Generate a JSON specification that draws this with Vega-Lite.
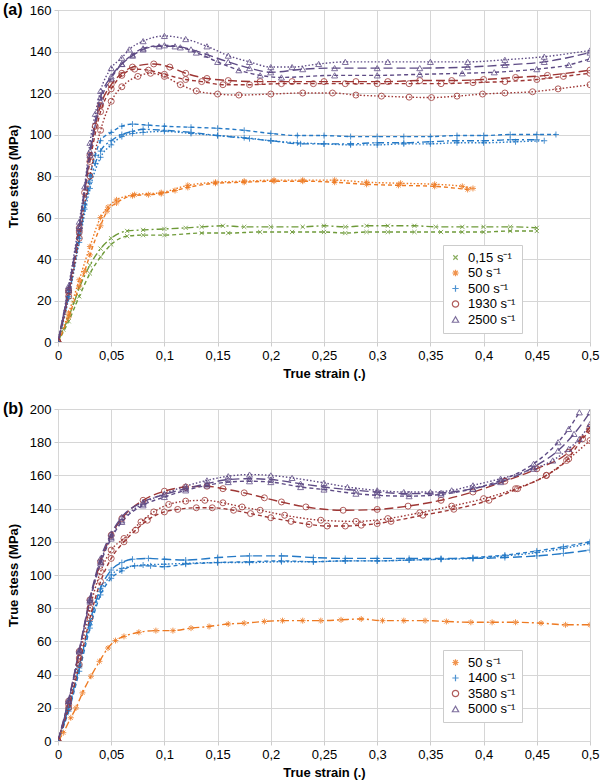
{
  "$schema": "https://vega.github.io/schema/vega-lite/v6.json",
  "padding": {"left": 2, "top": 1, "right": 5, "bottom": 5},
  "config": {
    "font": "Liberation Sans",
    "view": {"stroke": "#cccccc", "strokeWidth": 1},
    "axis": {
      "grid": true, "gridColor": "#d6d6d6", "gridWidth": 1,
      "domain": false, "ticks": true, "tickColor": "#cccccc", "tickSize": 4,
      "labelFont": "Liberation Sans", "labelFontSize": 13, "labelColor": "#000000", "labelPadding": 3,
      "titleFont": "Liberation Sans", "titleFontSize": 13, "titleFontWeight": "bold", "titleColor": "#000000"
    },
    "legend": {
      "labelFont": "Liberation Sans", "labelFontSize": 13, "labelColor": "#000000",
      "strokeColor": "#cccccc", "fillColor": "#ffffff", "padding": 6, "rowPadding": 1.5,
      "labelOffset": 6, "symbolSize": 40, "symbolStrokeWidth": 1.2
    },
    "title": {"font": "Liberation Sans", "fontSize": 16, "fontWeight": "bold", "color": "#000000"}
  },
  "datasets": {
    "a": [
      {"r":"0,15 s⁻¹","c":"dd","x":0,"y":0},{"r":"0,15 s⁻¹","c":"dd","x":0.005,"y":6},{"r":"0,15 s⁻¹","c":"dd","x":0.01,"y":12},{"r":"0,15 s⁻¹","c":"dd","x":0.015,"y":19},{"r":"0,15 s⁻¹","c":"dd","x":0.02,"y":26},{"r":"0,15 s⁻¹","c":"dd","x":0.03,"y":37},{"r":"0,15 s⁻¹","c":"dd","x":0.04,"y":45},{"r":"0,15 s⁻¹","c":"dd","x":0.05,"y":50},{"r":"0,15 s⁻¹","c":"dd","x":0.065,"y":53.5},{"r":"0,15 s⁻¹","c":"dd","x":0.08,"y":54},{"r":"0,15 s⁻¹","c":"dd","x":0.1,"y":54.5},{"r":"0,15 s⁻¹","c":"dd","x":0.12,"y":55},{"r":"0,15 s⁻¹","c":"dd","x":0.135,"y":55.5},{"r":"0,15 s⁻¹","c":"dd","x":0.155,"y":56},{"r":"0,15 s⁻¹","c":"dd","x":0.175,"y":55.5},{"r":"0,15 s⁻¹","c":"dd","x":0.2,"y":55.5},{"r":"0,15 s⁻¹","c":"dd","x":0.23,"y":55.5},{"r":"0,15 s⁻¹","c":"dd","x":0.25,"y":56},{"r":"0,15 s⁻¹","c":"dd","x":0.27,"y":55.5},{"r":"0,15 s⁻¹","c":"dd","x":0.29,"y":56},{"r":"0,15 s⁻¹","c":"dd","x":0.31,"y":56},{"r":"0,15 s⁻¹","c":"dd","x":0.335,"y":56},{"r":"0,15 s⁻¹","c":"dd","x":0.355,"y":55.5},{"r":"0,15 s⁻¹","c":"dd","x":0.38,"y":55.5},{"r":"0,15 s⁻¹","c":"dd","x":0.4,"y":55.5},{"r":"0,15 s⁻¹","c":"dd","x":0.425,"y":55.5},{"r":"0,15 s⁻¹","c":"dd","x":0.45,"y":55},
      {"r":"0,15 s⁻¹","c":"sd","x":0,"y":0},{"r":"0,15 s⁻¹","c":"sd","x":0.01,"y":10},{"r":"0,15 s⁻¹","c":"sd","x":0.02,"y":22},{"r":"0,15 s⁻¹","c":"sd","x":0.03,"y":33},{"r":"0,15 s⁻¹","c":"sd","x":0.04,"y":41},{"r":"0,15 s⁻¹","c":"sd","x":0.05,"y":47},{"r":"0,15 s⁻¹","c":"sd","x":0.065,"y":51},{"r":"0,15 s⁻¹","c":"sd","x":0.08,"y":51.5},{"r":"0,15 s⁻¹","c":"sd","x":0.1,"y":51.5},{"r":"0,15 s⁻¹","c":"sd","x":0.135,"y":52.5},{"r":"0,15 s⁻¹","c":"sd","x":0.16,"y":52.5},{"r":"0,15 s⁻¹","c":"sd","x":0.19,"y":53},{"r":"0,15 s⁻¹","c":"sd","x":0.22,"y":53},{"r":"0,15 s⁻¹","c":"sd","x":0.25,"y":53},{"r":"0,15 s⁻¹","c":"sd","x":0.27,"y":52.5},{"r":"0,15 s⁻¹","c":"sd","x":0.29,"y":53},{"r":"0,15 s⁻¹","c":"sd","x":0.31,"y":53},{"r":"0,15 s⁻¹","c":"sd","x":0.335,"y":53},{"r":"0,15 s⁻¹","c":"sd","x":0.36,"y":53},{"r":"0,15 s⁻¹","c":"sd","x":0.38,"y":53},{"r":"0,15 s⁻¹","c":"sd","x":0.4,"y":53},{"r":"0,15 s⁻¹","c":"sd","x":0.425,"y":53.5},{"r":"0,15 s⁻¹","c":"sd","x":0.45,"y":53.5},
      {"r":"50 s⁻¹","c":"sd","x":0,"y":0},{"r":"50 s⁻¹","c":"sd","x":0.01,"y":12},{"r":"50 s⁻¹","c":"sd","x":0.02,"y":27},{"r":"50 s⁻¹","c":"sd","x":0.025,"y":34},{"r":"50 s⁻¹","c":"sd","x":0.03,"y":42},{"r":"50 s⁻¹","c":"sd","x":0.04,"y":56},{"r":"50 s⁻¹","c":"sd","x":0.046,"y":63},{"r":"50 s⁻¹","c":"sd","x":0.055,"y":67},{"r":"50 s⁻¹","c":"sd","x":0.07,"y":70.5},{"r":"50 s⁻¹","c":"sd","x":0.085,"y":71},{"r":"50 s⁻¹","c":"sd","x":0.097,"y":71.5},{"r":"50 s⁻¹","c":"sd","x":0.11,"y":73},{"r":"50 s⁻¹","c":"sd","x":0.122,"y":74.5},{"r":"50 s⁻¹","c":"sd","x":0.148,"y":76.5},{"r":"50 s⁻¹","c":"sd","x":0.175,"y":77},{"r":"50 s⁻¹","c":"sd","x":0.203,"y":77.5},{"r":"50 s⁻¹","c":"sd","x":0.23,"y":77.5},{"r":"50 s⁻¹","c":"sd","x":0.26,"y":77},{"r":"50 s⁻¹","c":"sd","x":0.29,"y":76},{"r":"50 s⁻¹","c":"sd","x":0.32,"y":75.5},{"r":"50 s⁻¹","c":"sd","x":0.354,"y":75},{"r":"50 s⁻¹","c":"sd","x":0.385,"y":73.5},
      {"r":"50 s⁻¹","c":"dot","x":0,"y":0},{"r":"50 s⁻¹","c":"dot","x":0.01,"y":14},{"r":"50 s⁻¹","c":"dot","x":0.02,"y":30},{"r":"50 s⁻¹","c":"dot","x":0.03,"y":46},{"r":"50 s⁻¹","c":"dot","x":0.04,"y":60},{"r":"50 s⁻¹","c":"dot","x":0.047,"y":65},{"r":"50 s⁻¹","c":"dot","x":0.055,"y":68.5},{"r":"50 s⁻¹","c":"dot","x":0.072,"y":71},{"r":"50 s⁻¹","c":"dot","x":0.097,"y":72},{"r":"50 s⁻¹","c":"dot","x":0.122,"y":75.5},{"r":"50 s⁻¹","c":"dot","x":0.148,"y":77},{"r":"50 s⁻¹","c":"dot","x":0.175,"y":77.5},{"r":"50 s⁻¹","c":"dot","x":0.203,"y":78},{"r":"50 s⁻¹","c":"dot","x":0.23,"y":78},{"r":"50 s⁻¹","c":"dot","x":0.26,"y":78},{"r":"50 s⁻¹","c":"dot","x":0.29,"y":77},{"r":"50 s⁻¹","c":"dot","x":0.322,"y":76.5},{"r":"50 s⁻¹","c":"dot","x":0.354,"y":76},{"r":"50 s⁻¹","c":"dot","x":0.38,"y":75},{"r":"50 s⁻¹","c":"dot","x":0.39,"y":74},
      {"r":"500 s⁻¹","c":"sd","x":0,"y":0},{"r":"500 s⁻¹","c":"sd","x":0.01,"y":24},{"r":"500 s⁻¹","c":"sd","x":0.02,"y":52},{"r":"500 s⁻¹","c":"sd","x":0.025,"y":66},{"r":"500 s⁻¹","c":"sd","x":0.03,"y":80},{"r":"500 s⁻¹","c":"sd","x":0.035,"y":90},{"r":"500 s⁻¹","c":"sd","x":0.04,"y":97},{"r":"500 s⁻¹","c":"sd","x":0.05,"y":101},{"r":"500 s⁻¹","c":"sd","x":0.06,"y":104},{"r":"500 s⁻¹","c":"sd","x":0.07,"y":105},{"r":"500 s⁻¹","c":"sd","x":0.085,"y":104.5},{"r":"500 s⁻¹","c":"sd","x":0.1,"y":104},{"r":"500 s⁻¹","c":"sd","x":0.125,"y":103.5},{"r":"500 s⁻¹","c":"sd","x":0.15,"y":103},{"r":"500 s⁻¹","c":"sd","x":0.175,"y":102},{"r":"500 s⁻¹","c":"sd","x":0.2,"y":100.5},{"r":"500 s⁻¹","c":"sd","x":0.225,"y":99.5},{"r":"500 s⁻¹","c":"sd","x":0.25,"y":99.5},{"r":"500 s⁻¹","c":"sd","x":0.275,"y":99},{"r":"500 s⁻¹","c":"sd","x":0.3,"y":99},{"r":"500 s⁻¹","c":"sd","x":0.325,"y":99},{"r":"500 s⁻¹","c":"sd","x":0.35,"y":99},{"r":"500 s⁻¹","c":"sd","x":0.375,"y":99.5},{"r":"500 s⁻¹","c":"sd","x":0.4,"y":99.5},{"r":"500 s⁻¹","c":"sd","x":0.425,"y":100},{"r":"500 s⁻¹","c":"sd","x":0.45,"y":100},{"r":"500 s⁻¹","c":"sd","x":0.468,"y":100},
      {"r":"500 s⁻¹","c":"dd","x":0,"y":0},{"r":"500 s⁻¹","c":"dd","x":0.01,"y":22},{"r":"500 s⁻¹","c":"dd","x":0.02,"y":50},{"r":"500 s⁻¹","c":"dd","x":0.025,"y":64},{"r":"500 s⁻¹","c":"dd","x":0.03,"y":77},{"r":"500 s⁻¹","c":"dd","x":0.035,"y":86},{"r":"500 s⁻¹","c":"dd","x":0.04,"y":92},{"r":"500 s⁻¹","c":"dd","x":0.05,"y":97},{"r":"500 s⁻¹","c":"dd","x":0.06,"y":100},{"r":"500 s⁻¹","c":"dd","x":0.07,"y":101.5},{"r":"500 s⁻¹","c":"dd","x":0.08,"y":102.5},{"r":"500 s⁻¹","c":"dd","x":0.1,"y":102},{"r":"500 s⁻¹","c":"dd","x":0.125,"y":101},{"r":"500 s⁻¹","c":"dd","x":0.15,"y":99.5},{"r":"500 s⁻¹","c":"dd","x":0.18,"y":98},{"r":"500 s⁻¹","c":"dd","x":0.2,"y":97},{"r":"500 s⁻¹","c":"dd","x":0.228,"y":95.5},{"r":"500 s⁻¹","c":"dd","x":0.25,"y":95.5},{"r":"500 s⁻¹","c":"dd","x":0.275,"y":95.5},{"r":"500 s⁻¹","c":"dd","x":0.3,"y":96},{"r":"500 s⁻¹","c":"dd","x":0.325,"y":96},{"r":"500 s⁻¹","c":"dd","x":0.35,"y":96.5},{"r":"500 s⁻¹","c":"dd","x":0.375,"y":97},{"r":"500 s⁻¹","c":"dd","x":0.4,"y":97},{"r":"500 s⁻¹","c":"dd","x":0.425,"y":97.5},{"r":"500 s⁻¹","c":"dd","x":0.45,"y":97.5},
      {"r":"500 s⁻¹","c":"dot","x":0,"y":0},{"r":"500 s⁻¹","c":"dot","x":0.01,"y":21},{"r":"500 s⁻¹","c":"dot","x":0.02,"y":48},{"r":"500 s⁻¹","c":"dot","x":0.03,"y":74},{"r":"500 s⁻¹","c":"dot","x":0.04,"y":89},{"r":"500 s⁻¹","c":"dot","x":0.05,"y":95},{"r":"500 s⁻¹","c":"dot","x":0.06,"y":99},{"r":"500 s⁻¹","c":"dot","x":0.07,"y":100.5},{"r":"500 s⁻¹","c":"dot","x":0.08,"y":101},{"r":"500 s⁻¹","c":"dot","x":0.1,"y":101.5},{"r":"500 s⁻¹","c":"dot","x":0.125,"y":100.5},{"r":"500 s⁻¹","c":"dot","x":0.15,"y":99.5},{"r":"500 s⁻¹","c":"dot","x":0.175,"y":98.5},{"r":"500 s⁻¹","c":"dot","x":0.2,"y":97},{"r":"500 s⁻¹","c":"dot","x":0.225,"y":96},{"r":"500 s⁻¹","c":"dot","x":0.25,"y":95.5},{"r":"500 s⁻¹","c":"dot","x":0.275,"y":95},{"r":"500 s⁻¹","c":"dot","x":0.3,"y":95},{"r":"500 s⁻¹","c":"dot","x":0.325,"y":95.5},{"r":"500 s⁻¹","c":"dot","x":0.35,"y":95.5},{"r":"500 s⁻¹","c":"dot","x":0.375,"y":96},{"r":"500 s⁻¹","c":"dot","x":0.4,"y":96},{"r":"500 s⁻¹","c":"dot","x":0.43,"y":96.5},{"r":"500 s⁻¹","c":"dot","x":0.457,"y":97},
      {"r":"1930 s⁻¹","c":"ld","x":0,"y":0},{"r":"1930 s⁻¹","c":"ld","x":0.01,"y":25},{"r":"1930 s⁻¹","c":"ld","x":0.02,"y":55},{"r":"1930 s⁻¹","c":"ld","x":0.025,"y":72},{"r":"1930 s⁻¹","c":"ld","x":0.03,"y":90},{"r":"1930 s⁻¹","c":"ld","x":0.035,"y":104},{"r":"1930 s⁻¹","c":"ld","x":0.04,"y":114},{"r":"1930 s⁻¹","c":"ld","x":0.05,"y":124},{"r":"1930 s⁻¹","c":"ld","x":0.06,"y":129.5},{"r":"1930 s⁻¹","c":"ld","x":0.07,"y":132.5},{"r":"1930 s⁻¹","c":"ld","x":0.09,"y":134},{"r":"1930 s⁻¹","c":"ld","x":0.105,"y":132.5},{"r":"1930 s⁻¹","c":"ld","x":0.12,"y":129.5},{"r":"1930 s⁻¹","c":"ld","x":0.14,"y":127},{"r":"1930 s⁻¹","c":"ld","x":0.16,"y":126},{"r":"1930 s⁻¹","c":"ld","x":0.19,"y":125.5},{"r":"1930 s⁻¹","c":"ld","x":0.22,"y":125.5},{"r":"1930 s⁻¹","c":"ld","x":0.25,"y":125.5},{"r":"1930 s⁻¹","c":"ld","x":0.28,"y":125.5},{"r":"1930 s⁻¹","c":"ld","x":0.31,"y":125.5},{"r":"1930 s⁻¹","c":"ld","x":0.34,"y":126},{"r":"1930 s⁻¹","c":"ld","x":0.37,"y":126},{"r":"1930 s⁻¹","c":"ld","x":0.4,"y":126.5},{"r":"1930 s⁻¹","c":"ld","x":0.43,"y":127.5},{"r":"1930 s⁻¹","c":"ld","x":0.46,"y":128.5},{"r":"1930 s⁻¹","c":"ld","x":0.5,"y":131},
      {"r":"1930 s⁻¹","c":"sd","x":0,"y":0},{"r":"1930 s⁻¹","c":"sd","x":0.01,"y":24},{"r":"1930 s⁻¹","c":"sd","x":0.02,"y":53},{"r":"1930 s⁻¹","c":"sd","x":0.03,"y":87},{"r":"1930 s⁻¹","c":"sd","x":0.04,"y":111},{"r":"1930 s⁻¹","c":"sd","x":0.05,"y":122},{"r":"1930 s⁻¹","c":"sd","x":0.06,"y":128.5},{"r":"1930 s⁻¹","c":"sd","x":0.072,"y":131.5},{"r":"1930 s⁻¹","c":"sd","x":0.085,"y":131},{"r":"1930 s⁻¹","c":"sd","x":0.1,"y":129},{"r":"1930 s⁻¹","c":"sd","x":0.12,"y":126.5},{"r":"1930 s⁻¹","c":"sd","x":0.135,"y":125.5},{"r":"1930 s⁻¹","c":"sd","x":0.155,"y":124},{"r":"1930 s⁻¹","c":"sd","x":0.18,"y":124},{"r":"1930 s⁻¹","c":"sd","x":0.21,"y":124.5},{"r":"1930 s⁻¹","c":"sd","x":0.24,"y":124.5},{"r":"1930 s⁻¹","c":"sd","x":0.27,"y":124.5},{"r":"1930 s⁻¹","c":"sd","x":0.3,"y":124.5},{"r":"1930 s⁻¹","c":"sd","x":0.33,"y":124.5},{"r":"1930 s⁻¹","c":"sd","x":0.36,"y":124.5},{"r":"1930 s⁻¹","c":"sd","x":0.39,"y":125},{"r":"1930 s⁻¹","c":"sd","x":0.42,"y":125.5},{"r":"1930 s⁻¹","c":"sd","x":0.45,"y":126.5},{"r":"1930 s⁻¹","c":"sd","x":0.475,"y":128},{"r":"1930 s⁻¹","c":"sd","x":0.5,"y":129.5},
      {"r":"1930 s⁻¹","c":"dot","x":0,"y":0},{"r":"1930 s⁻¹","c":"dot","x":0.01,"y":22},{"r":"1930 s⁻¹","c":"dot","x":0.02,"y":50},{"r":"1930 s⁻¹","c":"dot","x":0.03,"y":80},{"r":"1930 s⁻¹","c":"dot","x":0.04,"y":102},{"r":"1930 s⁻¹","c":"dot","x":0.05,"y":116},{"r":"1930 s⁻¹","c":"dot","x":0.06,"y":123},{"r":"1930 s⁻¹","c":"dot","x":0.075,"y":128},{"r":"1930 s⁻¹","c":"dot","x":0.087,"y":129.5},{"r":"1930 s⁻¹","c":"dot","x":0.1,"y":128},{"r":"1930 s⁻¹","c":"dot","x":0.115,"y":124},{"r":"1930 s⁻¹","c":"dot","x":0.13,"y":121},{"r":"1930 s⁻¹","c":"dot","x":0.15,"y":119.5},{"r":"1930 s⁻¹","c":"dot","x":0.17,"y":119},{"r":"1930 s⁻¹","c":"dot","x":0.2,"y":119.5},{"r":"1930 s⁻¹","c":"dot","x":0.23,"y":120},{"r":"1930 s⁻¹","c":"dot","x":0.258,"y":120},{"r":"1930 s⁻¹","c":"dot","x":0.28,"y":119},{"r":"1930 s⁻¹","c":"dot","x":0.304,"y":118.5},{"r":"1930 s⁻¹","c":"dot","x":0.33,"y":118},{"r":"1930 s⁻¹","c":"dot","x":0.351,"y":117.8},{"r":"1930 s⁻¹","c":"dot","x":0.375,"y":118.5},{"r":"1930 s⁻¹","c":"dot","x":0.399,"y":119.5},{"r":"1930 s⁻¹","c":"dot","x":0.42,"y":120},{"r":"1930 s⁻¹","c":"dot","x":0.446,"y":120.6},{"r":"1930 s⁻¹","c":"dot","x":0.47,"y":122},{"r":"1930 s⁻¹","c":"dot","x":0.5,"y":124},
      {"r":"2500 s⁻¹","c":"dot","x":0,"y":0},{"r":"2500 s⁻¹","c":"dot","x":0.01,"y":27},{"r":"2500 s⁻¹","c":"dot","x":0.02,"y":58},{"r":"2500 s⁻¹","c":"dot","x":0.025,"y":75},{"r":"2500 s⁻¹","c":"dot","x":0.03,"y":96},{"r":"2500 s⁻¹","c":"dot","x":0.035,"y":110},{"r":"2500 s⁻¹","c":"dot","x":0.04,"y":121},{"r":"2500 s⁻¹","c":"dot","x":0.05,"y":132},{"r":"2500 s⁻¹","c":"dot","x":0.06,"y":137},{"r":"2500 s⁻¹","c":"dot","x":0.067,"y":141},{"r":"2500 s⁻¹","c":"dot","x":0.08,"y":145},{"r":"2500 s⁻¹","c":"dot","x":0.1,"y":147.5},{"r":"2500 s⁻¹","c":"dot","x":0.12,"y":146},{"r":"2500 s⁻¹","c":"dot","x":0.14,"y":142.5},{"r":"2500 s⁻¹","c":"dot","x":0.16,"y":138},{"r":"2500 s⁻¹","c":"dot","x":0.18,"y":135},{"r":"2500 s⁻¹","c":"dot","x":0.2,"y":132.5},{"r":"2500 s⁻¹","c":"dot","x":0.22,"y":132.5},{"r":"2500 s⁻¹","c":"dot","x":0.245,"y":134},{"r":"2500 s⁻¹","c":"dot","x":0.27,"y":135},{"r":"2500 s⁻¹","c":"dot","x":0.31,"y":135},{"r":"2500 s⁻¹","c":"dot","x":0.35,"y":135},{"r":"2500 s⁻¹","c":"dot","x":0.385,"y":135},{"r":"2500 s⁻¹","c":"dot","x":0.42,"y":136},{"r":"2500 s⁻¹","c":"dot","x":0.457,"y":137.5},{"r":"2500 s⁻¹","c":"dot","x":0.5,"y":140.5},
      {"r":"2500 s⁻¹","c":"ld","x":0,"y":0},{"r":"2500 s⁻¹","c":"ld","x":0.01,"y":26},{"r":"2500 s⁻¹","c":"ld","x":0.02,"y":56},{"r":"2500 s⁻¹","c":"ld","x":0.03,"y":92},{"r":"2500 s⁻¹","c":"ld","x":0.04,"y":118},{"r":"2500 s⁻¹","c":"ld","x":0.05,"y":128},{"r":"2500 s⁻¹","c":"ld","x":0.06,"y":134},{"r":"2500 s⁻¹","c":"ld","x":0.07,"y":138},{"r":"2500 s⁻¹","c":"ld","x":0.08,"y":141},{"r":"2500 s⁻¹","c":"ld","x":0.095,"y":142.5},{"r":"2500 s⁻¹","c":"ld","x":0.11,"y":142.5},{"r":"2500 s⁻¹","c":"ld","x":0.125,"y":141},{"r":"2500 s⁻¹","c":"ld","x":0.14,"y":138.5},{"r":"2500 s⁻¹","c":"ld","x":0.16,"y":135},{"r":"2500 s⁻¹","c":"ld","x":0.18,"y":132},{"r":"2500 s⁻¹","c":"ld","x":0.2,"y":130},{"r":"2500 s⁻¹","c":"ld","x":0.23,"y":131.5},{"r":"2500 s⁻¹","c":"ld","x":0.26,"y":132},{"r":"2500 s⁻¹","c":"ld","x":0.3,"y":132},{"r":"2500 s⁻¹","c":"ld","x":0.34,"y":132},{"r":"2500 s⁻¹","c":"ld","x":0.385,"y":132.5},{"r":"2500 s⁻¹","c":"ld","x":0.42,"y":133.5},{"r":"2500 s⁻¹","c":"ld","x":0.457,"y":135},{"r":"2500 s⁻¹","c":"ld","x":0.5,"y":139.5},
      {"r":"2500 s⁻¹","c":"sd","x":0,"y":0},{"r":"2500 s⁻¹","c":"sd","x":0.01,"y":25},{"r":"2500 s⁻¹","c":"sd","x":0.02,"y":55},{"r":"2500 s⁻¹","c":"sd","x":0.03,"y":90},{"r":"2500 s⁻¹","c":"sd","x":0.04,"y":116},{"r":"2500 s⁻¹","c":"sd","x":0.05,"y":127},{"r":"2500 s⁻¹","c":"sd","x":0.06,"y":134},{"r":"2500 s⁻¹","c":"sd","x":0.07,"y":138.5},{"r":"2500 s⁻¹","c":"sd","x":0.08,"y":141.5},{"r":"2500 s⁻¹","c":"sd","x":0.1,"y":143},{"r":"2500 s⁻¹","c":"sd","x":0.115,"y":142},{"r":"2500 s⁻¹","c":"sd","x":0.13,"y":139.5},{"r":"2500 s⁻¹","c":"sd","x":0.15,"y":135},{"r":"2500 s⁻¹","c":"sd","x":0.17,"y":131},{"r":"2500 s⁻¹","c":"sd","x":0.19,"y":128.5},{"r":"2500 s⁻¹","c":"sd","x":0.21,"y":127.5},{"r":"2500 s⁻¹","c":"sd","x":0.26,"y":128.5},{"r":"2500 s⁻¹","c":"sd","x":0.3,"y":128.5},{"r":"2500 s⁻¹","c":"sd","x":0.34,"y":129},{"r":"2500 s⁻¹","c":"sd","x":0.38,"y":129.5},{"r":"2500 s⁻¹","c":"sd","x":0.41,"y":130},{"r":"2500 s⁻¹","c":"sd","x":0.45,"y":131.5},{"r":"2500 s⁻¹","c":"sd","x":0.48,"y":133.5},{"r":"2500 s⁻¹","c":"sd","x":0.5,"y":136.5}
    ],
    "b": [
      {"r":"50 s⁻¹","c":"dd","x":0,"y":0},{"r":"50 s⁻¹","c":"dd","x":0.005,"y":5},{"r":"50 s⁻¹","c":"dd","x":0.012,"y":14},{"r":"50 s⁻¹","c":"dd","x":0.017,"y":20},{"r":"50 s⁻¹","c":"dd","x":0.023,"y":29},{"r":"50 s⁻¹","c":"dd","x":0.031,"y":39},{"r":"50 s⁻¹","c":"dd","x":0.039,"y":48},{"r":"50 s⁻¹","c":"dd","x":0.047,"y":56},{"r":"50 s⁻¹","c":"dd","x":0.054,"y":60.5},{"r":"50 s⁻¹","c":"dd","x":0.062,"y":63},{"r":"50 s⁻¹","c":"dd","x":0.076,"y":65.5},{"r":"50 s⁻¹","c":"dd","x":0.092,"y":66.5},{"r":"50 s⁻¹","c":"dd","x":0.108,"y":66.5},{"r":"50 s⁻¹","c":"dd","x":0.125,"y":68},{"r":"50 s⁻¹","c":"dd","x":0.142,"y":69},{"r":"50 s⁻¹","c":"dd","x":0.16,"y":70.5},{"r":"50 s⁻¹","c":"dd","x":0.175,"y":71},{"r":"50 s⁻¹","c":"dd","x":0.194,"y":72},{"r":"50 s⁻¹","c":"dd","x":0.211,"y":72.5},{"r":"50 s⁻¹","c":"dd","x":0.23,"y":72.5},{"r":"50 s⁻¹","c":"dd","x":0.247,"y":72.5},{"r":"50 s⁻¹","c":"dd","x":0.266,"y":73},{"r":"50 s⁻¹","c":"dd","x":0.285,"y":73.5},{"r":"50 s⁻¹","c":"dd","x":0.305,"y":72.5},{"r":"50 s⁻¹","c":"dd","x":0.325,"y":72.5},{"r":"50 s⁻¹","c":"dd","x":0.345,"y":72.5},{"r":"50 s⁻¹","c":"dd","x":0.365,"y":72},{"r":"50 s⁻¹","c":"dd","x":0.388,"y":71.5},{"r":"50 s⁻¹","c":"dd","x":0.408,"y":71.5},{"r":"50 s⁻¹","c":"dd","x":0.43,"y":71.5},{"r":"50 s⁻¹","c":"dd","x":0.454,"y":71},{"r":"50 s⁻¹","c":"dd","x":0.477,"y":70},{"r":"50 s⁻¹","c":"dd","x":0.5,"y":70},
      {"r":"1400 s⁻¹","c":"ld","x":0,"y":0},{"r":"1400 s⁻¹","c":"ld","x":0.01,"y":20},{"r":"1400 s⁻¹","c":"ld","x":0.02,"y":45},{"r":"1400 s⁻¹","c":"ld","x":0.03,"y":72},{"r":"1400 s⁻¹","c":"ld","x":0.04,"y":92},{"r":"1400 s⁻¹","c":"ld","x":0.05,"y":103},{"r":"1400 s⁻¹","c":"ld","x":0.06,"y":107.5},{"r":"1400 s⁻¹","c":"ld","x":0.07,"y":109.5},{"r":"1400 s⁻¹","c":"ld","x":0.085,"y":110},{"r":"1400 s⁻¹","c":"ld","x":0.1,"y":109.5},{"r":"1400 s⁻¹","c":"ld","x":0.12,"y":109},{"r":"1400 s⁻¹","c":"ld","x":0.15,"y":110.5},{"r":"1400 s⁻¹","c":"ld","x":0.18,"y":111.5},{"r":"1400 s⁻¹","c":"ld","x":0.21,"y":111.5},{"r":"1400 s⁻¹","c":"ld","x":0.24,"y":110.5},{"r":"1400 s⁻¹","c":"ld","x":0.27,"y":110},{"r":"1400 s⁻¹","c":"ld","x":0.3,"y":110},{"r":"1400 s⁻¹","c":"ld","x":0.33,"y":110},{"r":"1400 s⁻¹","c":"ld","x":0.36,"y":110},{"r":"1400 s⁻¹","c":"ld","x":0.39,"y":110},{"r":"1400 s⁻¹","c":"ld","x":0.42,"y":110.5},{"r":"1400 s⁻¹","c":"ld","x":0.45,"y":111.5},{"r":"1400 s⁻¹","c":"ld","x":0.475,"y":113},{"r":"1400 s⁻¹","c":"ld","x":0.5,"y":115},
      {"r":"1400 s⁻¹","c":"dot","x":0,"y":0},{"r":"1400 s⁻¹","c":"dot","x":0.01,"y":19},{"r":"1400 s⁻¹","c":"dot","x":0.02,"y":44},{"r":"1400 s⁻¹","c":"dot","x":0.03,"y":70},{"r":"1400 s⁻¹","c":"dot","x":0.04,"y":90},{"r":"1400 s⁻¹","c":"dot","x":0.05,"y":100},{"r":"1400 s⁻¹","c":"dot","x":0.06,"y":104},{"r":"1400 s⁻¹","c":"dot","x":0.08,"y":106},{"r":"1400 s⁻¹","c":"dot","x":0.1,"y":106.5},{"r":"1400 s⁻¹","c":"dot","x":0.12,"y":107},{"r":"1400 s⁻¹","c":"dot","x":0.15,"y":107.5},{"r":"1400 s⁻¹","c":"dot","x":0.18,"y":107.5},{"r":"1400 s⁻¹","c":"dot","x":0.21,"y":108},{"r":"1400 s⁻¹","c":"dot","x":0.24,"y":108},{"r":"1400 s⁻¹","c":"dot","x":0.27,"y":108.5},{"r":"1400 s⁻¹","c":"dot","x":0.3,"y":108.5},{"r":"1400 s⁻¹","c":"dot","x":0.33,"y":109},{"r":"1400 s⁻¹","c":"dot","x":0.36,"y":109.5},{"r":"1400 s⁻¹","c":"dot","x":0.39,"y":110},{"r":"1400 s⁻¹","c":"dot","x":0.42,"y":111.5},{"r":"1400 s⁻¹","c":"dot","x":0.45,"y":113.5},{"r":"1400 s⁻¹","c":"dot","x":0.475,"y":116},{"r":"1400 s⁻¹","c":"dot","x":0.5,"y":119},
      {"r":"1400 s⁻¹","c":"sd","x":0,"y":0},{"r":"1400 s⁻¹","c":"sd","x":0.01,"y":18},{"r":"1400 s⁻¹","c":"sd","x":0.02,"y":42},{"r":"1400 s⁻¹","c":"sd","x":0.03,"y":68},{"r":"1400 s⁻¹","c":"sd","x":0.04,"y":88},{"r":"1400 s⁻¹","c":"sd","x":0.05,"y":98},{"r":"1400 s⁻¹","c":"sd","x":0.06,"y":102.5},{"r":"1400 s⁻¹","c":"sd","x":0.072,"y":105.5},{"r":"1400 s⁻¹","c":"sd","x":0.087,"y":105.5},{"r":"1400 s⁻¹","c":"sd","x":0.1,"y":105},{"r":"1400 s⁻¹","c":"sd","x":0.12,"y":106.5},{"r":"1400 s⁻¹","c":"sd","x":0.15,"y":107.5},{"r":"1400 s⁻¹","c":"sd","x":0.18,"y":108},{"r":"1400 s⁻¹","c":"sd","x":0.21,"y":108.5},{"r":"1400 s⁻¹","c":"sd","x":0.24,"y":108},{"r":"1400 s⁻¹","c":"sd","x":0.27,"y":108.5},{"r":"1400 s⁻¹","c":"sd","x":0.3,"y":108.5},{"r":"1400 s⁻¹","c":"sd","x":0.33,"y":109},{"r":"1400 s⁻¹","c":"sd","x":0.36,"y":109.5},{"r":"1400 s⁻¹","c":"sd","x":0.39,"y":110.5},{"r":"1400 s⁻¹","c":"sd","x":0.42,"y":112},{"r":"1400 s⁻¹","c":"sd","x":0.45,"y":114.5},{"r":"1400 s⁻¹","c":"sd","x":0.475,"y":117},{"r":"1400 s⁻¹","c":"sd","x":0.5,"y":120},
      {"r":"3580 s⁻¹","c":"ld","x":0,"y":0},{"r":"3580 s⁻¹","c":"ld","x":0.01,"y":24},{"r":"3580 s⁻¹","c":"ld","x":0.02,"y":54},{"r":"3580 s⁻¹","c":"ld","x":0.03,"y":85},{"r":"3580 s⁻¹","c":"ld","x":0.04,"y":108},{"r":"3580 s⁻¹","c":"ld","x":0.05,"y":124},{"r":"3580 s⁻¹","c":"ld","x":0.06,"y":134},{"r":"3580 s⁻¹","c":"ld","x":0.08,"y":145},{"r":"3580 s⁻¹","c":"ld","x":0.1,"y":150.5},{"r":"3580 s⁻¹","c":"ld","x":0.12,"y":153},{"r":"3580 s⁻¹","c":"ld","x":0.14,"y":153.5},{"r":"3580 s⁻¹","c":"ld","x":0.155,"y":152},{"r":"3580 s⁻¹","c":"ld","x":0.175,"y":149.5},{"r":"3580 s⁻¹","c":"ld","x":0.194,"y":146.5},{"r":"3580 s⁻¹","c":"ld","x":0.21,"y":144},{"r":"3580 s⁻¹","c":"ld","x":0.233,"y":141},{"r":"3580 s⁻¹","c":"ld","x":0.268,"y":139},{"r":"3580 s⁻¹","c":"ld","x":0.3,"y":139.5},{"r":"3580 s⁻¹","c":"ld","x":0.329,"y":141.5},{"r":"3580 s⁻¹","c":"ld","x":0.36,"y":145},{"r":"3580 s⁻¹","c":"ld","x":0.39,"y":150},{"r":"3580 s⁻¹","c":"ld","x":0.42,"y":156.5},{"r":"3580 s⁻¹","c":"ld","x":0.45,"y":164},{"r":"3580 s⁻¹","c":"ld","x":0.48,"y":174},{"r":"3580 s⁻¹","c":"ld","x":0.5,"y":189},
      {"r":"3580 s⁻¹","c":"dot","x":0,"y":0},{"r":"3580 s⁻¹","c":"dot","x":0.01,"y":22},{"r":"3580 s⁻¹","c":"dot","x":0.02,"y":50},{"r":"3580 s⁻¹","c":"dot","x":0.03,"y":80},{"r":"3580 s⁻¹","c":"dot","x":0.04,"y":102},{"r":"3580 s⁻¹","c":"dot","x":0.05,"y":115},{"r":"3580 s⁻¹","c":"dot","x":0.062,"y":122},{"r":"3580 s⁻¹","c":"dot","x":0.078,"y":132},{"r":"3580 s⁻¹","c":"dot","x":0.09,"y":138},{"r":"3580 s⁻¹","c":"dot","x":0.104,"y":142.5},{"r":"3580 s⁻¹","c":"dot","x":0.12,"y":144.5},{"r":"3580 s⁻¹","c":"dot","x":0.138,"y":145},{"r":"3580 s⁻¹","c":"dot","x":0.155,"y":143.5},{"r":"3580 s⁻¹","c":"dot","x":0.173,"y":141},{"r":"3580 s⁻¹","c":"dot","x":0.19,"y":139},{"r":"3580 s⁻¹","c":"dot","x":0.213,"y":136},{"r":"3580 s⁻¹","c":"dot","x":0.247,"y":133},{"r":"3580 s⁻¹","c":"dot","x":0.28,"y":132.3},{"r":"3580 s⁻¹","c":"dot","x":0.31,"y":134},{"r":"3580 s⁻¹","c":"dot","x":0.34,"y":137.5},{"r":"3580 s⁻¹","c":"dot","x":0.37,"y":141.5},{"r":"3580 s⁻¹","c":"dot","x":0.4,"y":146},{"r":"3580 s⁻¹","c":"dot","x":0.43,"y":152},{"r":"3580 s⁻¹","c":"dot","x":0.459,"y":160},{"r":"3580 s⁻¹","c":"dot","x":0.48,"y":170},{"r":"3580 s⁻¹","c":"dot","x":0.5,"y":181},
      {"r":"3580 s⁻¹","c":"sd","x":0,"y":0},{"r":"3580 s⁻¹","c":"sd","x":0.01,"y":20},{"r":"3580 s⁻¹","c":"sd","x":0.02,"y":46},{"r":"3580 s⁻¹","c":"sd","x":0.03,"y":74},{"r":"3580 s⁻¹","c":"sd","x":0.04,"y":96},{"r":"3580 s⁻¹","c":"sd","x":0.05,"y":110},{"r":"3580 s⁻¹","c":"sd","x":0.062,"y":120},{"r":"3580 s⁻¹","c":"sd","x":0.073,"y":127},{"r":"3580 s⁻¹","c":"sd","x":0.084,"y":133},{"r":"3580 s⁻¹","c":"sd","x":0.1,"y":138},{"r":"3580 s⁻¹","c":"sd","x":0.1125,"y":139.5},{"r":"3580 s⁻¹","c":"sd","x":0.13,"y":140.5},{"r":"3580 s⁻¹","c":"sd","x":0.145,"y":140.5},{"r":"3580 s⁻¹","c":"sd","x":0.165,"y":139},{"r":"3580 s⁻¹","c":"sd","x":0.181,"y":137},{"r":"3580 s⁻¹","c":"sd","x":0.2,"y":134.5},{"r":"3580 s⁻¹","c":"sd","x":0.219,"y":132.3},{"r":"3580 s⁻¹","c":"sd","x":0.236,"y":130.5},{"r":"3580 s⁻¹","c":"sd","x":0.253,"y":129.5},{"r":"3580 s⁻¹","c":"sd","x":0.27,"y":129.5},{"r":"3580 s⁻¹","c":"sd","x":0.285,"y":130},{"r":"3580 s⁻¹","c":"sd","x":0.3,"y":131},{"r":"3580 s⁻¹","c":"sd","x":0.313,"y":132.3},{"r":"3580 s⁻¹","c":"sd","x":0.343,"y":136},{"r":"3580 s⁻¹","c":"sd","x":0.372,"y":139.6},{"r":"3580 s⁻¹","c":"sd","x":0.405,"y":145},{"r":"3580 s⁻¹","c":"sd","x":0.432,"y":152},{"r":"3580 s⁻¹","c":"sd","x":0.459,"y":160},{"r":"3580 s⁻¹","c":"sd","x":0.478,"y":169},{"r":"3580 s⁻¹","c":"sd","x":0.493,"y":182},{"r":"3580 s⁻¹","c":"sd","x":0.5,"y":187},
      {"r":"5000 s⁻¹","c":"dot","x":0,"y":0},{"r":"5000 s⁻¹","c":"dot","x":0.01,"y":24},{"r":"5000 s⁻¹","c":"dot","x":0.02,"y":54},{"r":"5000 s⁻¹","c":"dot","x":0.03,"y":85},{"r":"5000 s⁻¹","c":"dot","x":0.04,"y":108},{"r":"5000 s⁻¹","c":"dot","x":0.05,"y":123},{"r":"5000 s⁻¹","c":"dot","x":0.06,"y":133},{"r":"5000 s⁻¹","c":"dot","x":0.08,"y":143},{"r":"5000 s⁻¹","c":"dot","x":0.1,"y":149},{"r":"5000 s⁻¹","c":"dot","x":0.12,"y":153.5},{"r":"5000 s⁻¹","c":"dot","x":0.14,"y":157},{"r":"5000 s⁻¹","c":"dot","x":0.16,"y":159.5},{"r":"5000 s⁻¹","c":"dot","x":0.18,"y":160.5},{"r":"5000 s⁻¹","c":"dot","x":0.2,"y":160},{"r":"5000 s⁻¹","c":"dot","x":0.22,"y":158.5},{"r":"5000 s⁻¹","c":"dot","x":0.25,"y":155.5},{"r":"5000 s⁻¹","c":"dot","x":0.272,"y":153},{"r":"5000 s⁻¹","c":"dot","x":0.3,"y":151},{"r":"5000 s⁻¹","c":"dot","x":0.325,"y":150},{"r":"5000 s⁻¹","c":"dot","x":0.35,"y":150},{"r":"5000 s⁻¹","c":"dot","x":0.37,"y":151},{"r":"5000 s⁻¹","c":"dot","x":0.39,"y":154},{"r":"5000 s⁻¹","c":"dot","x":0.416,"y":158},{"r":"5000 s⁻¹","c":"dot","x":0.447,"y":164},{"r":"5000 s⁻¹","c":"dot","x":0.465,"y":169},{"r":"5000 s⁻¹","c":"dot","x":0.48,"y":176},{"r":"5000 s⁻¹","c":"dot","x":0.49,"y":182},{"r":"5000 s⁻¹","c":"dot","x":0.5,"y":191},
      {"r":"5000 s⁻¹","c":"ld","x":0,"y":0},{"r":"5000 s⁻¹","c":"ld","x":0.01,"y":25},{"r":"5000 s⁻¹","c":"ld","x":0.02,"y":55},{"r":"5000 s⁻¹","c":"ld","x":0.03,"y":86},{"r":"5000 s⁻¹","c":"ld","x":0.04,"y":110},{"r":"5000 s⁻¹","c":"ld","x":0.05,"y":125},{"r":"5000 s⁻¹","c":"ld","x":0.06,"y":135},{"r":"5000 s⁻¹","c":"ld","x":0.08,"y":144},{"r":"5000 s⁻¹","c":"ld","x":0.1,"y":148.5},{"r":"5000 s⁻¹","c":"ld","x":0.12,"y":152},{"r":"5000 s⁻¹","c":"ld","x":0.14,"y":155},{"r":"5000 s⁻¹","c":"ld","x":0.16,"y":157.5},{"r":"5000 s⁻¹","c":"ld","x":0.18,"y":158},{"r":"5000 s⁻¹","c":"ld","x":0.2,"y":157.5},{"r":"5000 s⁻¹","c":"ld","x":0.228,"y":155},{"r":"5000 s⁻¹","c":"ld","x":0.25,"y":153},{"r":"5000 s⁻¹","c":"ld","x":0.28,"y":151},{"r":"5000 s⁻¹","c":"ld","x":0.3,"y":150},{"r":"5000 s⁻¹","c":"ld","x":0.33,"y":149},{"r":"5000 s⁻¹","c":"ld","x":0.36,"y":149.5},{"r":"5000 s⁻¹","c":"ld","x":0.39,"y":152},{"r":"5000 s⁻¹","c":"ld","x":0.416,"y":156},{"r":"5000 s⁻¹","c":"ld","x":0.447,"y":165},{"r":"5000 s⁻¹","c":"ld","x":0.47,"y":175},{"r":"5000 s⁻¹","c":"ld","x":0.485,"y":185},{"r":"5000 s⁻¹","c":"ld","x":0.5,"y":198},
      {"r":"5000 s⁻¹","c":"sd","x":0,"y":0},{"r":"5000 s⁻¹","c":"sd","x":0.01,"y":24},{"r":"5000 s⁻¹","c":"sd","x":0.02,"y":54},{"r":"5000 s⁻¹","c":"sd","x":0.03,"y":84},{"r":"5000 s⁻¹","c":"sd","x":0.04,"y":107},{"r":"5000 s⁻¹","c":"sd","x":0.05,"y":122},{"r":"5000 s⁻¹","c":"sd","x":0.06,"y":132},{"r":"5000 s⁻¹","c":"sd","x":0.08,"y":142},{"r":"5000 s⁻¹","c":"sd","x":0.1,"y":147},{"r":"5000 s⁻¹","c":"sd","x":0.12,"y":151},{"r":"5000 s⁻¹","c":"sd","x":0.14,"y":154},{"r":"5000 s⁻¹","c":"sd","x":0.16,"y":156},{"r":"5000 s⁻¹","c":"sd","x":0.18,"y":156.5},{"r":"5000 s⁻¹","c":"sd","x":0.2,"y":156},{"r":"5000 s⁻¹","c":"sd","x":0.228,"y":153},{"r":"5000 s⁻¹","c":"sd","x":0.25,"y":151.5},{"r":"5000 s⁻¹","c":"sd","x":0.28,"y":149},{"r":"5000 s⁻¹","c":"sd","x":0.3,"y":148},{"r":"5000 s⁻¹","c":"sd","x":0.33,"y":147.5},{"r":"5000 s⁻¹","c":"sd","x":0.36,"y":148.5},{"r":"5000 s⁻¹","c":"sd","x":0.39,"y":152},{"r":"5000 s⁻¹","c":"sd","x":0.416,"y":157},{"r":"5000 s⁻¹","c":"sd","x":0.447,"y":167},{"r":"5000 s⁻¹","c":"sd","x":0.47,"y":180},{"r":"5000 s⁻¹","c":"sd","x":0.48,"y":188},{"r":"5000 s⁻¹","c":"sd","x":0.49,"y":198}
    ]
  },
  "spacing": 19,
  "resolve": {"scale": {"color": "independent", "stroke": "independent", "shape": "independent", "strokeDash": "independent"}},
  "vconcat": [
    {
      "width": 532, "height": 332,
      "data": {"name": "a"},
      "title": {"text": "(a)", "anchor": "start", "frame": "group", "dx": -55, "offset": -14},
      "encoding": {
        "x": {"field": "x", "type": "quantitative", "scale": {"domain": [0, 0.5], "nice": false}, "axis": {"title": "True strain (.)", "values": [0,0.05,0.1,0.15,0.2,0.25,0.3,0.35,0.4,0.45,0.5], "labelExpr": "replace(format(datum.value, '.2~f'), '.', ',')", "titlePadding": 5, "labelFlush": false}},
        "y": {"field": "y", "type": "quantitative", "scale": {"domain": [0, 160], "nice": false}, "axis": {"title": "True stess (MPa)", "values": [0,20,40,60,80,100,120,140,160], "titlePadding": 9}}
      },
      "layer": [
        {
          "mark": {"type": "line", "strokeWidth": 1.4, "interpolate": "monotone", "clip": true},
          "encoding": {
            "stroke": {"field": "r", "type": "nominal", "scale": {"domain": ["0,15 s⁻¹","50 s⁻¹","500 s⁻¹","1930 s⁻¹","2500 s⁻¹","-"], "range": ["#6E9A38","#EE7A22","#2479C6","#9E3634","#5E4B85","#000000"]}, "legend": null},
            "strokeDash": {"field": "c", "type": "nominal", "scale": {"domain": ["ld","sd","dot","dd"], "range": [[9,4],[4,3],[1.5,2],[7,3,2,3]]}, "legend": null}
          }
        },
        {
          "mark": {"type": "point", "filled": false, "size": 36, "strokeWidth": 1, "opacity": 0.8, "clip": true},
          "encoding": {
            "color": {"field": "r", "type": "nominal", "scale": {"domain": ["0,15 s⁻¹","50 s⁻¹","500 s⁻¹","1930 s⁻¹","2500 s⁻¹"], "range": ["#6E9A38","#EE7A22","#2479C6","#9E3634","#5E4B85"]}, "legend": {"title": null, "orient": "none", "legendX": 385, "legendY": 235}},
            "shape": {"field": "r", "type": "nominal", "scale": {"domain": ["0,15 s⁻¹","50 s⁻¹","500 s⁻¹","1930 s⁻¹","2500 s⁻¹"], "range": ["M-0.7,-0.7L0.7,0.7M-0.7,0.7L0.7,-0.7","M-1,0L1,0M0,-1L0,1M-0.7,-0.7L0.7,0.7M-0.7,0.7L0.7,-0.7","M-1,0L1,0M0,-1L0,1","circle","triangle-up"]}, "legend": {"title": null, "orient": "none", "legendX": 385, "legendY": 235}}
          }
        }
      ]
    },
    {
      "width": 532, "height": 332,
      "data": {"name": "b"},
      "title": {"text": "(b)", "anchor": "start", "frame": "group", "dx": -55, "offset": -14},
      "encoding": {
        "x": {"field": "x", "type": "quantitative", "scale": {"domain": [0, 0.5], "nice": false}, "axis": {"title": "True strain (.)", "values": [0,0.05,0.1,0.15,0.2,0.25,0.3,0.35,0.4,0.45,0.5], "labelExpr": "replace(format(datum.value, '.2~f'), '.', ',')", "titlePadding": 5, "labelFlush": false}},
        "y": {"field": "y", "type": "quantitative", "scale": {"domain": [0, 200], "nice": false}, "axis": {"title": "True stess (MPa)", "values": [0,20,40,60,80,100,120,140,160,180,200], "titlePadding": 9}}
      },
      "layer": [
        {
          "mark": {"type": "line", "strokeWidth": 1.4, "interpolate": "monotone", "clip": true},
          "encoding": {
            "stroke": {"field": "r", "type": "nominal", "scale": {"domain": ["50 s⁻¹","1400 s⁻¹","3580 s⁻¹","5000 s⁻¹","-"], "range": ["#EE7A22","#2479C6","#9E3634","#5E4B85","#000000"]}, "legend": null},
            "strokeDash": {"field": "c", "type": "nominal", "scale": {"domain": ["ld","sd","dot","dd"], "range": [[9,4],[4,3],[1.5,2],[7,3,2,3]]}, "legend": null}
          }
        },
        {
          "mark": {"type": "point", "filled": false, "size": 36, "strokeWidth": 1, "opacity": 0.8, "clip": true},
          "encoding": {
            "color": {"field": "r", "type": "nominal", "scale": {"domain": ["50 s⁻¹","1400 s⁻¹","3580 s⁻¹","5000 s⁻¹"], "range": ["#EE7A22","#2479C6","#9E3634","#5E4B85"]}, "legend": {"title": null, "orient": "none", "legendX": 385, "legendY": 241}},
            "shape": {"field": "r", "type": "nominal", "scale": {"domain": ["50 s⁻¹","1400 s⁻¹","3580 s⁻¹","5000 s⁻¹"], "range": ["M-1,0L1,0M0,-1L0,1M-0.7,-0.7L0.7,0.7M-0.7,0.7L0.7,-0.7","M-1,0L1,0M0,-1L0,1","circle","triangle-up"]}, "legend": {"title": null, "orient": "none", "legendX": 385, "legendY": 241}}
          }
        }
      ]
    }
  ]
}
